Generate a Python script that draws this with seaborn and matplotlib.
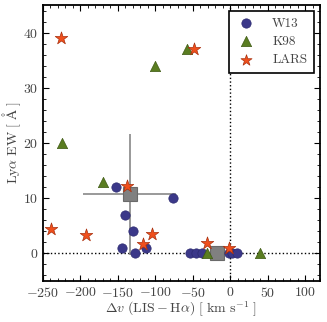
import numpy as np
import pandas as pd
import matplotlib
matplotlib.use("Agg")
import matplotlib.pyplot as plt
from matplotlib.ticker import MultipleLocator
import seaborn as sns

# Velocity offset (LIS - Halpha) and Lya equivalent width for each sample
w13_dv = [-152, -77, -140, -130, -145, -127, -113, -53, -45, -38, -1, 3, 9]
w13_ew = [12, 10, 7, 4, 1, 0, 1, 0, 0, 0, 0, 0, 0]

k98_dv = [-224, -170, -100, -58, -31, 40]
k98_ew = [20, 13, 34, 37, 0, 0]

lars_dv = [-226, -48, -239, -193, -138, -105, -117, -31, -2]
lars_ew = [39, 37, 4.4, 3.3, 12.3, 3.5, 1.7, 1.8, 1.0]

# Group averages with spread
avg_dv = [-134, -18]
avg_ew = [10.7, 0]
avg_dv_err = [62, 0]
avg_ew_err = [11, 0]

sns.set_style("ticks")
plt.rcParams.update({
    "font.family": "cmr10",
    "mathtext.fontset": "cm",
    "axes.formatter.use_mathtext": True,
    "xtick.direction": "in",
    "ytick.direction": "in",
    "xtick.top": True,
    "ytick.right": True,
    "xtick.major.size": 4,
    "ytick.major.size": 4,
    "xtick.minor.size": 2,
    "ytick.minor.size": 2,
    "xtick.major.width": 0.8,
    "ytick.major.width": 0.8,
    "xtick.minor.width": 0.6,
    "ytick.minor.width": 0.6,
    "axes.linewidth": 1.3,
    "axes.edgecolor": "black",
    "xtick.color": "black",
    "ytick.color": "black",
    "font.size": 10,
})

df_w13 = pd.DataFrame({"dv": w13_dv, "ew": w13_ew})
df_k98 = pd.DataFrame({"dv": k98_dv, "ew": k98_ew})
df_lars = pd.DataFrame({"dv": lars_dv, "ew": lars_ew})

fig = plt.figure(figsize=(3.27, 3.22), dpi=100)
ax = fig.add_axes([0.1315, 0.1273, 0.9786 - 0.1315, 0.9845 - 0.1273])

ax.axhline(0, color="black", ls=":", lw=1.0, zorder=1)
ax.axvline(0, color="black", ls=":", lw=1.0, zorder=1)

ax.errorbar(avg_dv, avg_ew, xerr=avg_dv_err, yerr=avg_ew_err, fmt="s",
            ms=10, mfc="#808080", mec="#6a6a6a", mew=0.8,
            ecolor="#888888", elinewidth=1.2, capsize=0, zorder=2)

sns.scatterplot(data=df_w13, x="dv", y="ew", ax=ax, marker="o", s=45,
                color="#3b3889", edgecolor="#2c2a70", linewidth=0.5,
                label="W13", zorder=3)
sns.scatterplot(data=df_k98, x="dv", y="ew", ax=ax, marker="^", s=55,
                color="#5a7d21", edgecolor="#3f5a14", linewidth=0.5,
                label="K98", zorder=3)
sns.scatterplot(data=df_lars, x="dv", y="ew", ax=ax, marker="*", s=90,
                color="#f04f1c", edgecolor="#a8300e", linewidth=0.5,
                label="LARS", zorder=4)

ax.set_xlim(-250, 120)
ax.set_ylim(-5, 45)
ax.xaxis.set_major_locator(MultipleLocator(50))
ax.xaxis.set_minor_locator(MultipleLocator(10))
ax.yaxis.set_major_locator(MultipleLocator(10))
ax.yaxis.set_minor_locator(MultipleLocator(2))
ax.tick_params(which="both", direction="in", top=True, right=True,
               labelsize=10, labelcolor="#444444")

ax.set_xlabel(r"$\Delta v\ (\mathrm{LIS}-\mathrm{H}\alpha)\ [\ \mathrm{km\ s^{-1}}\ ]$",
              fontsize=10, color="#444444", labelpad=0)
ax.set_ylabel(r"$\mathrm{Ly}\alpha\ \mathrm{EW}\ [\ \mathrm{\AA}\ ]$",
              fontsize=10, color="#444444", labelpad=0)

leg = ax.legend(loc="upper right", bbox_to_anchor=(0.978, 0.979),
                borderaxespad=0, fancybox=False, framealpha=1,
                edgecolor="black", fontsize=9.5, handletextpad=1.2,
                labelspacing=0.45, borderpad=0.5, handlelength=1.6)
leg.get_frame().set_linewidth(1.2)
for h, sz in zip(leg.legend_handles, [45, 55, 70]):
    h.set_sizes([sz])
for t in leg.get_texts():
    t.set_color("#444444")

fig.savefig("out.png", dpi=100)
